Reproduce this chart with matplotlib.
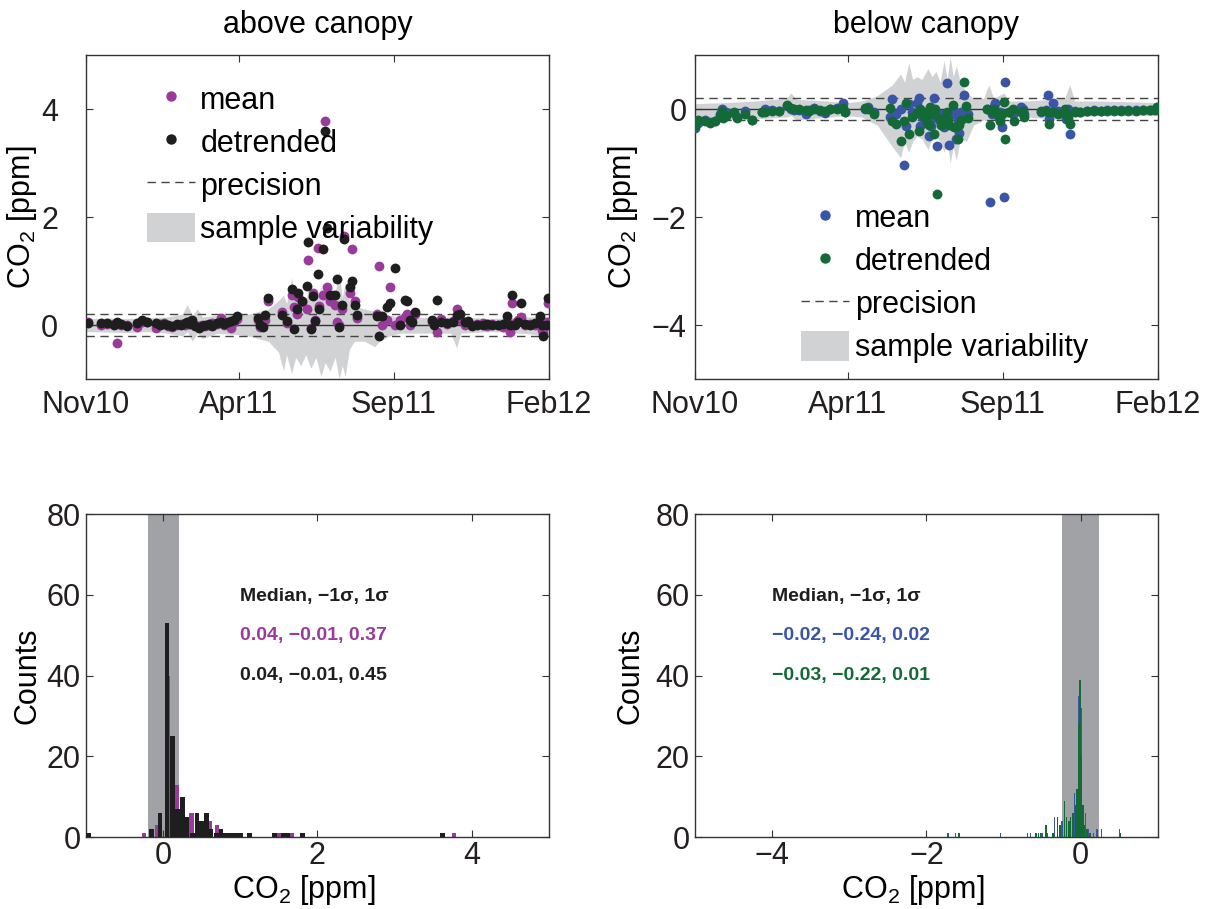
import numpy as np
import matplotlib
matplotlib.use("Agg")
import matplotlib.pyplot as plt
from matplotlib.lines import Line2D
from matplotlib.patches import Patch

plt.rcParams["font.family"] = ["Liberation Sans", "DejaVu Sans"]
plt.rcParams["mathtext.fontset"] = "custom"
plt.rcParams["mathtext.rm"] = "Liberation Sans"
plt.rcParams["mathtext.it"] = "Liberation Sans:italic"
plt.rcParams["mathtext.bf"] = "Liberation Sans:bold"

START = np.datetime64("2010-11-01")
tick_dates = ["2010-11-01", "2011-04-01", "2011-09-01", "2012-02-01"]
tick_names = ["Nov10", "Apr11", "Sep11", "Feb12"]
precision = 0.2

# above canopy: days since 1 Nov 2010, mean and detrended CO2 [ppm]
above_day = [2, 15, 21, 28, 31, 35, 40, 50, 55, 60, 69, 73, 77, 81, 85, 90, 94, 98,
             100, 103, 105, 108, 112, 115, 118, 121, 124, 129, 133, 136, 140, 143,
             146, 149,
             170, 172, 175, 177, 180, 194, 198, 203, 205, 208, 209, 213, 218, 219,
             222, 224, 226, 229, 230, 234, 236, 238, 241, 246, 248, 250, 253, 255,
             261, 263, 266, 268, 287, 289, 292, 297, 300, 305, 310, 315, 317, 320,
             322, 325,
             342, 344, 347, 351, 356, 362, 366, 369, 374, 377, 381, 386, 392, 396,
             401, 407, 412, 416, 419, 421, 424, 427, 430, 433, 438, 443, 448, 450,
             451, 455, 456]
above_mean = [0.06, 0.0, 0.02, 0.02, -0.33, 0.0, 0.0, -0.03, 0.06, 0.05, -0.06, 0.02,
              0.03, -0.02, -0.04, 0.01, 0.02, 0.0, 0.04, 0.08, 0.05, 0.0, -0.02, 0.01,
              -0.02, 0.0, 0.03, 0.02, 0.13, 0.0, 0.04, -0.05, 0.06, 0.12,
              0.1, -0.03, 0.06, 0.1, 0.45, 0.25, 0.04, 0.55, 0.34, 0.2, 0.52, 0.42,
              0.3, 1.2, -0.05, 0.6, 0.1, 1.43, 0.35, 0.56, 3.77, 0.71, 0.45, 0.38,
              0.06, 0.0, 0.3, 1.65, 0.6, 1.4, 0.45, 0.13, 0.2, 1.1, 0.0, 0.1, 0.71,
              0.0, 0.1, 0.15, 0.2, 0.0, 0.15, 0.2,
              0.05, 0.02, -0.12, 0.12, 0.02, 0.08, 0.29, 0.1, 0.0, 0.05, 0.0, 0.02,
              0.03, -0.01, 0.02, 0.0, -0.03, 0.05, -0.12, 0.41, 0.03, 0.1, 0.15, 0.0,
              0.02, 0.01, 0.1, -0.09, -0.15, 0.05, 0.41]
above_detr = [0.04, 0.03, 0.04, 0.0, 0.05, 0.02, -0.01, 0.03, 0.1, 0.05, 0.04, 0.0,
              0.02, 0.01, -0.01, 0.02, 0.0, 0.03, 0.05, 0.02, 0.1, -0.02, -0.05, -0.01,
              0.0, 0.02, -0.01, 0.04, 0.05, 0.02, 0.06, 0.08, 0.1, 0.16,
              0.13, 0.0, -0.03, 0.19, 0.51, 0.19, 0.07, 0.66, -0.08, 0.29, 0.6, 0.44,
              0.73, 1.53, -0.08, 0.53, 0.07, 0.95, 0.29, 1.4, 3.6, 1.79, 0.56, 0.55,
              0.86, -0.03, 0.38, 1.6, 0.71, 0.82, 0.38, 0.19, 0.16, -0.2, 0.16, 0.34,
              0.41, 1.06, 0.0, 0.47, 0.44, 0.1, 0.06, 0.25,
              0.1, 0.0, 0.47, 0.06, 0.04, 0.05, 0.19, 0.2, 0.05, 0.08, -0.02, 0.01,
              0.0, 0.02, 0.0, 0.01, 0.02, 0.17, 0.0, 0.55, 0.0, 0.05, 0.41, 0.02,
              0.0, 0.04, 0.17, 0.0, -0.21, 0.0, 0.51]

# above canopy sample variability envelope
above_env_day = [0, 20, 40, 60, 80, 95, 100, 105, 110, 115, 130, 150, 160, 170, 180,
                 190, 195, 198, 203, 207, 212, 217, 222, 227, 232, 236, 241, 246, 250,
                 253, 256, 260, 265, 275, 285, 290, 300, 310, 330, 360, 366, 370, 400,
                 430, 457]
above_env_hi = [0.12, 0.13, 0.12, 0.14, 0.15, 0.2, 0.38, 0.18, 0.3, 0.15, 0.18, 0.2,
                0.2, 0.25, 0.3, 0.45, 0.55, 0.4, 0.87, 0.5, 0.6, 0.5, 0.65, 0.45, 0.7,
                0.55, 0.75, 0.6, 1.0, 0.5, 0.8, 0.45, 0.35, 0.3, 0.25, 0.2, 0.18, 0.15,
                0.14, 0.15, 0.25, 0.15, 0.12, 0.15, 0.15]
above_env_lo = [-0.12, -0.13, -0.14, -0.12, -0.15, -0.2, -0.12, -0.3, -0.15, -0.25,
                -0.15, -0.18, -0.2, -0.25, -0.3, -0.5, -0.85, -0.55, -0.9, -0.6, -0.75,
                -0.55, -0.8, -0.6, -0.95, -0.7, -0.85, -0.6, -1.0, -0.75, -0.95, -0.45,
                -0.3, -0.3, -0.4, -0.3, -0.2, -0.15, -0.15, -0.15, -0.42, -0.15, -0.12,
                -0.15, -0.2]

# below canopy: days since 1 Nov 2010, mean and detrended CO2 [ppm]
below_day = [0, 3, 10, 15, 20, 25, 27, 28, 31, 39, 41, 49, 56, 66, 69, 76, 83, 91,
             95, 98, 103, 110, 113, 118, 123, 128, 133, 140, 146, 148,
             168, 171, 177, 193, 195, 198, 203, 206, 208, 211, 214, 219, 221, 222,
             224, 226, 229, 231, 232, 233, 236, 237, 239, 241, 243, 246, 249, 250,
             251, 255, 256, 258, 260, 261, 263, 266, 268, 270, 288, 291, 293, 295,
             296, 300, 301, 303, 305, 306, 310, 314, 315, 322, 324, 325,
             342, 347, 349, 350, 353, 358, 365, 366, 368, 370, 375, 380, 387, 394,
             401, 407, 414, 421, 428, 435, 442, 449, 454, 456]
below_mean = [-0.35, -0.25, -0.2, -0.24, -0.22, -0.1, 0.0, -0.12, -0.05, -0.08, -0.15,
              -0.03, -0.21, -0.05, 0.0, -0.02, -0.03, 0.05, 0.0, -0.02, -0.01, -0.1,
              -0.01, 0.02, -0.04, -0.08, 0.0, 0.02, 0.12, -0.05,
              0.0, 0.03, -0.05, -0.15, 0.18, -0.1, 0.0, -1.04, -0.32, 0.1, -0.06,
              0.12, 0.21, -0.32, -0.15, -0.05, -0.1, -0.5, -0.2, -0.32, 0.21, -0.1,
              -0.69, -0.2, -0.1, -0.34, 0.49, -0.15, -0.66, 0.0, -0.1, -0.56, -0.2,
              -0.44, -0.05, 0.27, -0.05, -0.1, 0.0, -1.73, -0.1, 0.05, 0.12, -0.1,
              -0.05, -0.34, -1.62, 0.5, -0.05, -0.1, -0.05, 0.03, 0.0, -0.1,
              -0.05, -0.02, 0.27, -0.18, 0.12, -0.03, -0.02, -0.18, 0.0, -0.47, -0.03,
              -0.05, -0.03, -0.02, -0.04, -0.01, -0.03, -0.02, -0.03, -0.02, -0.01,
              -0.02, 0.0, 0.03]
below_detr = [-0.32, -0.2, -0.22, -0.25, -0.23, -0.12, -0.04, -0.16, -0.12, -0.05,
              -0.16, -0.09, -0.21, -0.06, -0.05, -0.03, -0.04, 0.08, 0.02, 0.0, 0.01,
              -0.02, -0.03, 0.0, -0.02, -0.03, 0.0, 0.01, 0.02, -0.06,
              0.02, 0.0, -0.1, 0.02, -0.23, -0.28, -0.6, -0.22, 0.12, -0.47, -0.14,
              -0.08, -0.41, 0.0, -0.05, -0.14, -0.25, -0.3, 0.03, -0.1, -0.47, 0.0,
              -1.58, -0.16, -0.29, -0.2, -0.05, -0.2, -0.29, 0.08, -0.34, -0.34,
              -0.56, -0.3, -0.2, 0.51, 0.05, -0.16, 0.0, -0.29, -0.05, 0.0, -0.05,
              -0.16, -0.23, -0.1, 0.14, -0.56, -0.06, 0.0, -0.23, -0.05, -0.04, -0.14,
              -0.04, -0.03, -0.05, -0.28, -0.05, -0.1, 0.0, -0.1, -0.16, -0.28, -0.05,
              -0.05, -0.04, -0.03, -0.03, -0.03, -0.02, -0.04, -0.02, -0.03, -0.02,
              -0.02, -0.01, 0.04]

# below canopy sample variability envelope
below_env_day = [0, 30, 60, 90, 95, 100, 130, 150, 165, 180, 195, 203, 207, 211, 215,
                 219, 224, 230, 234, 238, 242, 246, 249, 252, 255, 258, 262, 268, 275,
                 285, 290, 295, 305, 310, 330, 365, 370, 375, 400, 457]
below_env_hi = [0.1, 0.12, 0.15, 0.2, 0.3, 0.18, 0.15, 0.12, 0.15, 0.25, 0.45, 0.65,
                0.5, 0.86, 0.55, 0.6, 0.55, 0.75, 0.6, 0.7, 0.5, 0.9, 0.55, 0.97, 0.6,
                0.8, 0.5, 0.3, 0.2, 0.2, 0.45, 0.2, 0.3, 0.15, 0.15, 0.2, 0.45, 0.15,
                0.15, 0.12]
below_env_lo = [-0.2, -0.2, -0.18, -0.15, -0.12, -0.2, -0.15, -0.12, -0.15, -0.3,
                -0.7, -0.9, -0.6, -0.8, -0.6, -0.5, -0.55, -0.75, -0.55, -0.5, -0.6,
                -0.8, -0.6, -1.0, -0.7, -0.95, -0.55, -0.6, -0.3, -0.2, -0.25, -0.2,
                -0.2, -0.15, -0.15, -0.2, -0.15, -0.15, -0.12, -0.12]

# histograms: bin centres [ppm] and counts
hist_above_mean_x = [-0.25, -0.07, 0.06, 0.18, 0.37, 0.6, 0.7, 1.5, 1.67, 3.77]
hist_above_mean_n = [1, 3, 40, 13, 6, 4, 3, 1, 1, 1]
hist_above_detr_x = [-0.97, -0.15, -0.04, 0.05, 0.12, 0.19, 0.25, 0.31, 0.38, 0.44,
                     0.5, 0.56, 0.62, 0.69, 0.75, 0.81, 0.87, 0.94, 1.0, 1.12, 1.44,
                     1.56, 1.62, 1.81, 3.62]
hist_above_detr_n = [1, 2, 6, 53, 25, 7, 10, 5, 1, 6, 4, 6, 2, 1, 2, 1, 1, 1, 1, 1, 1,
                     1, 1, 1, 1]
hist_below_mean_x = [-1.72, -1.62, -1.04, -0.69, -0.65, -0.5, -0.43, -0.34, -0.24,
                     -0.08, -0.02, 0.01, 0.04, 0.06, 0.1, 0.17, 0.21, 0.27, 0.5]
hist_below_mean_n = [1, 1, 1, 1, 1, 1, 1, 5, 4, 11, 35, 32, 8, 6, 2, 1, 2, 2, 2]
hist_below_detr_x = [-1.58, -0.58, -0.55, -0.52, -0.45, -0.36, -0.3, -0.27, -0.21,
                     -0.18, -0.15, -0.13, -0.1, -0.07, -0.05, -0.03, -0.01, 0.01, 0.03,
                     0.05, 0.08, 0.12, 0.52]
hist_below_detr_n = [1, 1, 1, 1, 3, 1, 5, 3, 9, 5, 4, 5, 6, 8, 12, 28, 39, 20, 8, 3, 2,
                     1, 1]

stats_header = "Median, \u22121\u03c3, 1\u03c3"
stats_above = ["0.04, \u22120.01, 0.37", "0.04, \u22120.01, 0.45"]
stats_below = ["\u22120.02, \u22120.24, 0.02", "\u22120.03, \u22120.22, 0.01"]

PURPLE = "#9a3a9a"
BLACK = "#1e1e1e"
BLUE = "#3a55a6"
GREEN = "#136a37"
FILL = "#d1d2d4"
BAND = "#a1a2a6"
AXC = "#333333"
FS = 22


def to_dates(days):
    return START + np.array(days).astype("timedelta64[D]")


def style_axes(ax, ypad, xpad=8):
    for s in ax.spines.values():
        s.set_color(AXC)
        s.set_linewidth(1.0)
    ax.tick_params(direction="in", top=True, right=True, length=5, width=0.8,
                   colors=AXC, labelcolor="#231f20", labelsize=FS)
    ax.tick_params(axis="x", pad=xpad)
    ax.tick_params(axis="y", pad=ypad)


def time_panel(ax, env_day, env_hi, env_lo, day, v1, v2, c1, c2, ylim, yticks):
    ax.fill_between(to_dates(env_day), env_lo, env_hi, color=FILL, lw=0, zorder=1)
    ax.axhline(0, color=AXC, lw=1, zorder=2)
    for p in (precision, -precision):
        ax.axhline(p, color="#444444", lw=1, ls=(0, (6, 4)), zorder=2)
    ax.scatter(to_dates(day), v1, s=50, color=c1, lw=0, zorder=3)
    ax.scatter(to_dates(day), v2, s=50, color=c2, lw=0, zorder=4)
    ax.set_xlim(np.datetime64(tick_dates[0]), np.datetime64(tick_dates[-1]))
    ax.set_xticks([np.datetime64(d) for d in tick_dates])
    ax.set_xticklabels(tick_names)
    ax.set_ylim(*ylim)
    ax.set_yticks(yticks)
    ax.set_yticklabels([str(t).replace("-", "\u2212") for t in yticks])
    ax.set_ylabel("CO$_2$ [ppm]", fontsize=FS)
    handles = [Line2D([], [], ls="none", marker="o", ms=7.5, color=c1, mec="none"),
               Line2D([], [], ls="none", marker="o", ms=7.5, color=c2, mec="none"),
               Line2D([], [], color="#444444", lw=1, ls=(0, (6, 4))),
               Patch(color=FILL, lw=0)]
    return handles


def hist_panel(ax, x1, n1, x2, n2, c1, c2, width, band, xlim, xticks, tx, texts):
    ax.axvspan(-band, band, color=BAND, lw=0, zorder=1)
    ax.bar(x1, n1, width=width, color=c1, lw=0, zorder=2)
    ax.bar(x2, n2, width=width, color=c2, lw=0, zorder=3)
    ax.set_xlim(*xlim)
    ax.set_ylim(0, 80)
    ax.set_xticks(xticks)
    ax.set_xticklabels([str(t).replace("-", "\u2212") for t in xticks])
    ax.set_yticks([0, 20, 40, 60, 80])
    ax.set_ylabel("Counts", fontsize=FS)
    ax.set_xlabel("CO$_2$ [ppm]", fontsize=FS)
    ax.text(tx, 59.5, stats_header, color=BLACK, fontsize=14, fontweight="bold",
            va="center")
    ax.text(tx, 50, texts[0], color=c1, fontsize=14, fontweight="bold", va="center")
    ax.text(tx, 40, texts[1], color=c2, fontsize=14, fontweight="bold", va="center")


fig = plt.figure(figsize=(12.18, 9.09), dpi=100)
ax1 = fig.add_axes([0.0706, 0.583, 0.380, 0.3564])
ax2 = fig.add_axes([0.5706, 0.583, 0.380, 0.3564])
ax3 = fig.add_axes([0.0706, 0.0792, 0.380, 0.3553])
ax4 = fig.add_axes([0.5706, 0.0792, 0.380, 0.3553])

labels = ["mean", "detrended", "precision", "sample variability"]
leg_kw = dict(loc="upper left", frameon=False, fontsize=FS, handlelength=1.57,
              handleheight=1.1, handletextpad=0.18, labelspacing=0.36,
              borderaxespad=0)

h = time_panel(ax1, above_env_day, above_env_hi, above_env_lo, above_day,
               above_mean, above_detr, PURPLE, BLACK, (-1, 5), [0, 2, 4])
ax1.legend(h, labels, bbox_to_anchor=(0.105, 0.95), **leg_kw)
ax1.set_title("above canopy", fontsize=FS, pad=16)
style_axes(ax1, 20)
ax1.yaxis.set_label_coords(-0.102, 0.5)

h = time_panel(ax2, below_env_day, below_env_hi, below_env_lo, below_day,
               below_mean, below_detr, BLUE, GREEN, (-5, 1), [-4, -2, 0])
ax2.legend(h, labels, bbox_to_anchor=(0.203, 0.584), **leg_kw)
ax2.set_title("below canopy", fontsize=FS, pad=16)
style_axes(ax2, 6)
ax2.yaxis.set_label_coords(-0.119, 0.5)

hist_panel(ax3, hist_above_mean_x, hist_above_mean_n, hist_above_detr_x,
           hist_above_detr_n, PURPLE, BLACK, 0.06, 0.2, (-1, 5), [0, 2, 4], 1.0,
           stats_above)
style_axes(ax3, 4, xpad=3)
ax3.yaxis.set_label_coords(-0.095, 0.5)

hist_panel(ax4, hist_below_mean_x, hist_below_mean_n, hist_below_detr_x,
           hist_below_detr_n, BLUE, GREEN, 0.018, 0.24, (-5, 1), [-4, -2, 0], -4.0,
           stats_below)
style_axes(ax4, 4, xpad=3)
ax4.yaxis.set_label_coords(-0.108, 0.5)

for ax in (ax3, ax4):
    ax.xaxis.set_label_coords(0.47, -0.112)

fig.savefig("out.png", dpi=100)
